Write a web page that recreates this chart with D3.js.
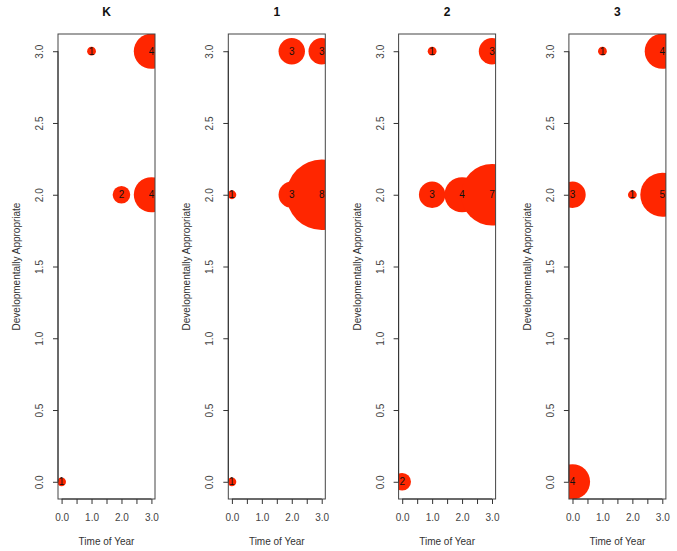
<!DOCTYPE html>
<html><head><meta charset="utf-8">
<script src="https://cdn.jsdelivr.net/npm/d3@7"></script>
<style>body{margin:0;background:#fff}svg{display:block}text{font-family:"Liberation Sans",Arial,sans-serif}</style>
</head><body>
<svg id="c" width="677" height="551"></svg>
<script>
const panels = ["K", "1", "2", "3"];
const timeK = [1, 3, 2, 3, 0], devK = [3, 3, 2, 2, 0], cntK = [1, 4, 2, 4, 1];
const time1 = [2, 3, 0, 2, 3, 0], dev1 = [3, 3, 2, 2, 2, 0], cnt1 = [3, 3, 1, 3, 8, 1];
const time2 = [1, 3, 1, 2, 3, 0], dev2 = [3, 3, 2, 2, 2, 0], cnt2 = [1, 3, 3, 4, 7, 2];
const time3 = [1, 3, 0, 2, 3, 0], dev3 = [3, 3, 2, 2, 2, 0], cnt3 = [1, 4, 3, 1, 5, 4];
const xTicks = [0, 0.5, 1, 1.5, 2, 2.5, 3];
const xTickLabels = [0, 1, 2, 3];
const yTicks = [0, 0.5, 1, 1.5, 2, 2.5, 3];
const xTitle = "Time of Year", yTitle = "Developmentally Appropriate";

const data = [[timeK, devK, cntK], [time1, dev1, cnt1], [time2, dev2, cnt2], [time3, dev3, cnt3]];
const svg = d3.select("#c");
const plotTop = 34, plotBottom = 499, plotW = 97;
const y = d3.scaleLinear().domain([-0.12, 3.12]).range([plotBottom, plotTop]);
const r = d3.scaleLinear().domain([0, 1]).range([0, 4.4]);
const fill = "#ff2600";

panels.forEach((name, i) => {
  const left = 58 + i * 170.3;
  const x = d3.scaleLinear().domain([-0.12, 3.12]).range([left, left + plotW]);
  const g = svg.append("g");
  const cid = "clip" + i;
  svg.append("clipPath").attr("id", cid).append("rect")
    .attr("x", left).attr("y", plotTop).attr("width", plotW).attr("height", plotBottom - plotTop);
  const [tx, dy, ct] = data[i];
  const pts = tx.map((t, k) => ({t, d: dy[k], c: ct[k]}));
  const pg = g.append("g").attr("clip-path", `url(#${cid})`);
  pg.selectAll("circle").data(pts).enter().append("circle")
    .attr("cx", d => x(d.t)).attr("cy", d => y(d.d)).attr("r", d => r(d.c))
    .attr("fill", fill);
  pg.selectAll("text").data(pts).enter().append("text")
    .attr("x", d => x(d.t)).attr("y", d => y(d.d)).attr("dy", "0.35em")
    .attr("text-anchor", "middle").attr("font-size", 10).attr("fill", "#111")
    .text(d => d.c);
  g.append("rect").attr("x", left).attr("y", plotTop).attr("width", plotW).attr("height", plotBottom - plotTop)
    .attr("fill", "none").attr("stroke", "#444").attr("stroke-width", 1);
  const xa = g.append("g").attr("transform", `translate(0,${plotBottom})`)
    .call(d3.axisBottom(x).tickValues(xTicks).tickSize(5).tickPadding(10)
      .tickFormat(d => xTickLabels.includes(d) ? d3.format(".1f")(d) : ""));
  xa.select(".domain").attr("d", `M${x(0)},0H${x(3)}`).attr("stroke", "#333");
  xa.selectAll("line").attr("stroke", "#333");
  xa.selectAll("text").attr("font-size", 10).attr("fill", "#444").attr("font-family", "Liberation Sans, Arial, sans-serif");
  const ya = g.append("g").attr("transform", `translate(${left},0)`)
    .call(d3.axisLeft(y).tickValues(yTicks).tickSize(5).tickFormat(d3.format(".1f")));
  ya.select(".domain").attr("d", `M0,${y(0)}V${y(3)}`).attr("stroke", "#333");
  ya.selectAll("line").attr("stroke", "#333");
  ya.selectAll(".tick text").attr("font-size", 10).attr("fill", "#444")
    .attr("font-family", "Liberation Sans, Arial, sans-serif")
    .attr("x", null).attr("dy", null).attr("text-anchor", "middle")
    .attr("transform", "translate(-15,0) rotate(-90)");
  g.append("text").attr("x", left + plotW / 2).attr("y", 16).attr("text-anchor", "middle")
    .attr("font-size", 12).attr("font-weight", "bold").attr("fill", "#111").text(name);
  g.append("text").attr("x", left + plotW / 2).attr("y", 545).attr("text-anchor", "middle")
    .attr("font-size", 10).attr("fill", "#333").text(xTitle);
  g.append("text").attr("transform", `translate(${left - 38},${(plotTop + plotBottom) / 2}) rotate(-90)`)
    .attr("text-anchor", "middle").attr("font-size", 10).attr("fill", "#333").text(yTitle);
});
</script>
</body></html>
